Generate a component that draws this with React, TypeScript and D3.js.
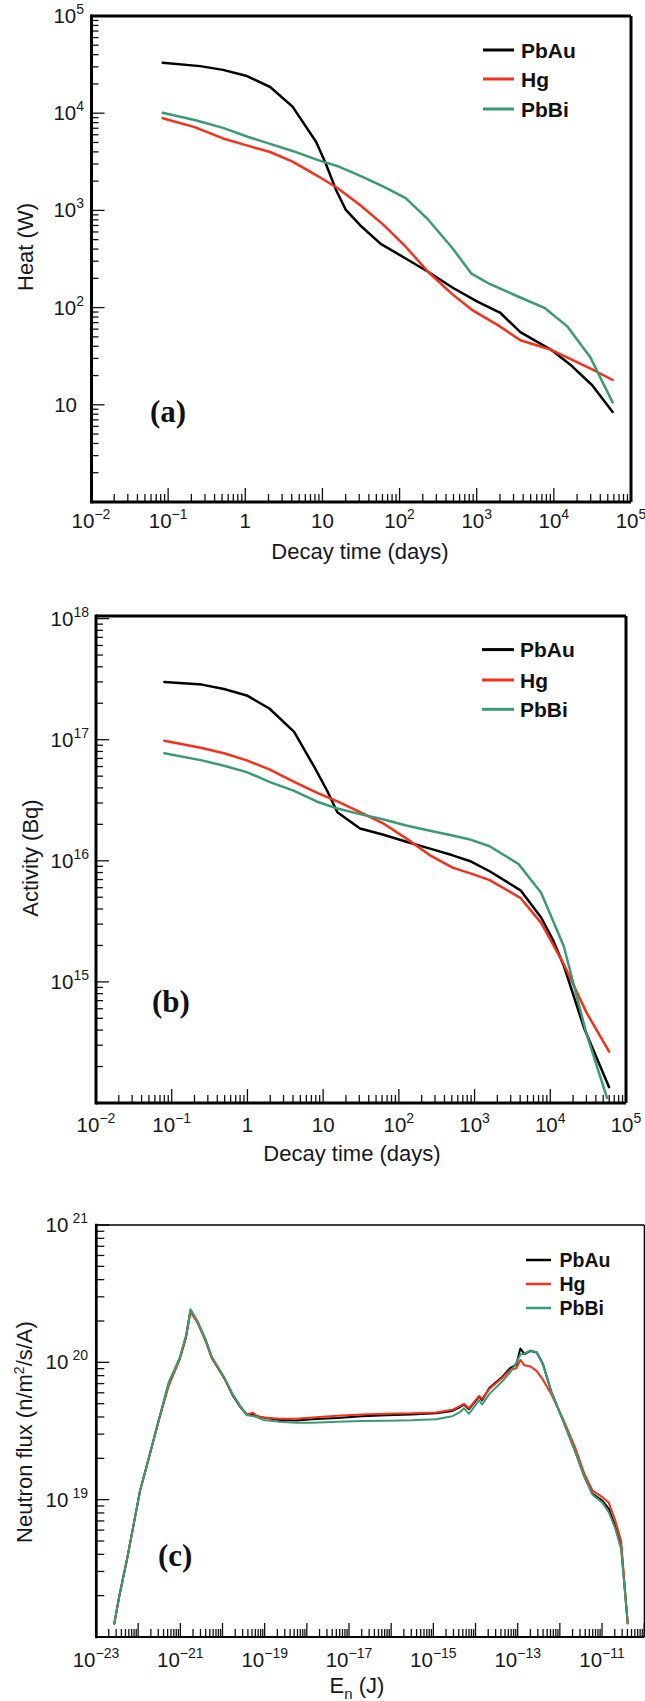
import React from 'react';
import * as d3 from 'd3';

const SANS = '"Liberation Sans", Arial, Helvetica, sans-serif';
const SERIF = '"Liberation Serif", "Times New Roman", serif';

const seriesNames = ['PbAu', 'Hg', 'PbBi'];
const seriesColors = ['#000000', '#f7301c', '#3a9b72'];

// ---------- Panel (a): decay heat ----------
const heatTimePbAu = [0.085, 0.26, 0.515, 1.02, 2.1, 4.1, 8.3, 11, 15, 20, 31, 57, 120, 234, 489, 1020, 2000, 3680, 9230, 17000, 31400, 57800];
const heatPbAu = [33000, 30500, 27900, 24300, 18600, 11700, 5050, 3050, 1620, 1020, 700, 452, 320, 234, 160, 115, 89, 56, 36.8, 25.2, 15.9, 8.45];
const heatTimeHg = [0.085, 0.22, 0.515, 1.07, 2.1, 4.1, 8.6, 15.8, 31, 61, 120, 234, 489, 900, 1880, 3680, 9230, 31400, 57800];
const heatHg = [8870, 7190, 5500, 4640, 3990, 3180, 2270, 1690, 1130, 718, 423, 234, 136, 93, 66, 46.2, 36.8, 23.2, 18];
const heatTimePbBi = [0.085, 0.22, 0.515, 1.07, 2.1, 4.1, 8.6, 15.8, 31, 61, 120, 234, 489, 847, 1470, 3680, 7670, 15070, 29500, 57800];
const heatPbBi = [10100, 8500, 7070, 5730, 4840, 4090, 3310, 2850, 2270, 1765, 1337, 807, 405, 225, 175, 127, 98.6, 63.7, 31.1, 10.6];

// ---------- Panel (b): activity ----------
const actTimePbAu = [0.08, 0.25, 0.49, 0.98, 1.95, 4.14, 7.7, 11.3, 15.4, 30.7, 61, 129, 258, 513, 901, 1580, 4050, 7570, 11000, 15080, 28200, 59800];
const actPbAu = [3.0e17, 2.85e17, 2.62e17, 2.32e17, 1.81e17, 1.16e17, 5.9e16, 3.79e16, 2.52e16, 1.85e16, 1.65e16, 1.43e16, 1.26e16, 1.11e16, 9.86e15, 8.2e15, 5.7e15, 3.4e15, 2.18e15, 1.36e15, 4.1e14, 1.35e14];
const actTimeHg = [0.08, 0.25, 0.49, 0.98, 1.95, 4.14, 8.2, 15.4, 30.7, 61, 129, 258, 513, 901, 1580, 4050, 7570, 15080, 30000, 59800];
const actHg = [9.8e16, 8.55e16, 7.72e16, 6.75e16, 5.69e16, 4.49e16, 3.66e16, 3.09e16, 2.52e16, 2.05e16, 1.51e16, 1.11e16, 8.79e15, 7.83e15, 6.93e15, 4.93e15, 3.07e15, 1.4e15, 5.6e14, 2.66e14];
const actTimePbBi = [0.08, 0.25, 0.49, 0.98, 1.95, 4.14, 8.2, 15.4, 30.7, 61, 129, 258, 513, 901, 1580, 3800, 7570, 15080, 30000, 56200];
const actPbBi = [7.72e16, 6.75e16, 6.1e16, 5.4e16, 4.49e16, 3.78e16, 3.09e16, 2.7e16, 2.43e16, 2.2e16, 1.95e16, 1.77e16, 1.62e16, 1.49e16, 1.32e16, 9.4e15, 5.45e15, 1.97e15, 3.74e14, 1.1e14];

// ---------- Panel (c): neutron flux spectrum ----------
const energyJ = [
  2.72e-23, 3.56e-23, 5.58e-23, 1.10e-22, 1.72e-22, 3.01e-22, 5.27e-22, 9.68e-22, 1.36e-21, 1.74e-21,
  2.55e-21, 3.99e-21, 5.58e-21, 1.10e-20, 1.72e-20, 2.69e-20, 3.77e-20, 5.28e-20, 6.61e-20, 9.25e-20,
  2.27e-19, 5.57e-19, 1.37e-18, 5.26e-18, 2.03e-17, 7.80e-17, 3.00e-16, 1.16e-15, 2.84e-15, 4.45e-15,
  5.32e-15, 6.97e-15, 1.22e-14, 1.43e-14, 2.14e-14, 4.21e-14, 6.59e-14, 9.23e-14, 1.16e-13, 1.45e-13,
  2.03e-13, 2.84e-13, 3.97e-13, 6.22e-13, 1.22e-12, 2.40e-12, 3.76e-12, 5.89e-12, 1.03e-11, 1.45e-11,
  2.03e-11, 2.84e-11, 4.06e-11,
];
const fluxPbAu = [
  1.25e18, 1.98e18, 3.82e18, 1.15e19, 1.92e19, 3.70e19, 6.92e19, 1.07e20, 1.53e20, 2.38e20,
  1.97e20, 1.45e20, 1.08e20, 7.67e19, 5.79e19, 4.70e19, 4.17e19, 4.22e19, 4.05e19, 3.97e19,
  3.81e19, 3.77e19, 3.85e19, 3.93e19, 4.05e19, 4.12e19, 4.17e19, 4.25e19, 4.43e19, 4.75e19,
  4.93e19, 4.56e19, 5.62e19, 5.30e19, 6.53e19, 7.80e19, 9.06e19, 9.62e19, 1.26e20, 1.15e20,
  1.21e20, 1.18e20, 9.73e19, 6.15e19, 3.70e19, 2.19e19, 1.49e19, 1.11e19, 9.82e18, 8.57e18,
  6.47e18, 4.57e18, 1.26e18,
];
const fluxHg = [
  1.25e18, 1.98e18, 3.82e18, 1.15e19, 1.92e19, 3.70e19, 6.71e19, 1.05e20, 1.51e20, 2.33e20,
  1.95e20, 1.42e20, 1.07e20, 7.67e19, 5.89e19, 4.75e19, 4.17e19, 4.30e19, 4.05e19, 3.97e19,
  3.88e19, 3.88e19, 3.97e19, 4.09e19, 4.17e19, 4.22e19, 4.25e19, 4.32e19, 4.51e19, 4.84e19,
  4.99e19, 4.64e19, 5.69e19, 5.42e19, 6.41e19, 7.67e19, 8.79e19, 9.06e19, 1.04e20, 9.51e19,
  9.33e19, 8.63e19, 7.48e19, 5.89e19, 3.81e19, 2.32e19, 1.56e19, 1.17e19, 1.04e19, 9.48e18,
  7.16e18, 5.0e18, 1.26e18,
];
const fluxPbBi = [
  1.25e18, 1.98e18, 3.82e18, 1.15e19, 1.92e19, 3.70e19, 7.13e19, 1.08e20, 1.57e20, 2.44e20,
  2.0e20, 1.46e20, 1.10e20, 7.80e19, 5.89e19, 4.75e19, 4.12e19, 4.07e19, 3.98e19, 3.81e19,
  3.70e19, 3.63e19, 3.63e19, 3.70e19, 3.74e19, 3.76e19, 3.78e19, 3.85e19, 4.05e19, 4.37e19,
  4.64e19, 4.22e19, 5.30e19, 4.93e19, 5.89e19, 7.22e19, 8.43e19, 9.91e19, 1.14e20, 1.16e20,
  1.22e20, 1.18e20, 9.62e19, 6.15e19, 3.70e19, 2.16e19, 1.47e19, 1.09e19, 9.48e18, 8.07e18,
  6.24e18, 4.36e18, 1.26e18,
];

// tick labels: [value, base, exponent]
const timeTickLabels: [number, string, string][] = [
  [1e-2, '10', '\u22122'], [1e-1, '10', '\u22121'], [1, '1', ''], [10, '10', ''],
  [1e2, '10', '2'], [1e3, '10', '3'], [1e4, '10', '4'], [1e5, '10', '5'],
];
const heatTickLabels: [number, string, string][] = [
  [1e5, '10', '5'], [1e4, '10', '4'], [1e3, '10', '3'], [1e2, '10', '2'], [10, '10', ''],
];
const actTickLabels: [number, string, string][] = [
  [1e18, '10', '18'], [1e17, '10', '17'], [1e16, '10', '16'], [1e15, '10', '15'],
];
const energyTickLabels: [number, string, string][] = [
  [1e-23, '10', '\u221223'], [1e-21, '10', '\u221221'], [1e-19, '10', '\u221219'], [1e-17, '10', '\u221217'],
  [1e-15, '10', '\u221215'], [1e-13, '10', '\u221213'], [1e-11, '10', '\u221211'],
];
const fluxTickLabels: [number, string, string][] = [
  [1e21, '10', '21'], [1e20, '10', '20'], [1e19, '10', '19'],
];

type Series = { name: string; color: string; x: number[]; y: number[] };

type PanelCfg = {
  frame: { l: number; r: number; t: number; b: number; w: number; topW?: number; rightW?: number; bottomW?: number };
  xDomain: [number, number]; xRange: [number, number];
  yDomain: [number, number]; yRange: [number, number];
  xLabels: [number, string, string][]; yLabels: [number, string, string][];
  xLabelBaseline: number; yLabelRight: number; ySupGap: number;
  xTitle: React.ReactNode; xTitleX: number; xTitleY: number;
  yTitle: React.ReactNode; yTitleX: number; yTitleY: number;
  legend: { x1: number; x2: number; tx: number; ys: number[]; fs: number; lw: number };
  letter: { text: string; x: number; y: number };
  series: Series[]; lineWidth: number;
  xTickMajor: number; xTickMinor: number; yTickMajor: number; yTickMinor: number;
};

function logTicks(domain: [number, number]) {
  const lo = Math.min(domain[0], domain[1]);
  const hi = Math.max(domain[0], domain[1]);
  const out: { v: number; major: boolean }[] = [];
  for (let d = Math.floor(Math.log10(lo)) - 1; d <= Math.ceil(Math.log10(hi)); d++) {
    for (let k = 1; k <= 9; k++) {
      const v = k * Math.pow(10, d);
      if (v >= lo * 0.999 && v <= hi * 1.001) out.push({ v, major: k === 1 });
    }
  }
  return out;
}

function Panel({ cfg }: { cfg: PanelCfg }) {
  const x = d3.scaleLog().domain(cfg.xDomain).range(cfg.xRange);
  const y = d3.scaleLog().domain(cfg.yDomain).range(cfg.yRange);
  const f = cfg.frame;
  const line = d3.line<[number, number]>().x((d) => x(d[0])).y((d) => y(d[1]));
  const xt = logTicks(cfg.xDomain);
  const yt = logTicks(cfg.yDomain);
  return (
    <g>
      {cfg.series.map((s) => (
        <path key={s.name} d={line(s.x.map((v, i) => [v, s.y[i]] as [number, number])) || ''}
          fill="none" stroke={s.color} strokeWidth={cfg.lineWidth} strokeLinejoin="round" strokeLinecap="round" />
      ))}
      {xt.map((t, i) => (
        <line key={'xt' + i} x1={x(t.v)} x2={x(t.v)} y1={f.b} y2={f.b - (t.major ? cfg.xTickMajor : cfg.xTickMinor)}
          stroke="#111" strokeWidth={1.3} />
      ))}
      {yt.map((t, i) => (
        <line key={'yt' + i} x1={f.l} x2={f.l + (t.major ? cfg.yTickMajor : cfg.yTickMinor)} y1={y(t.v)} y2={y(t.v)}
          stroke="#111" strokeWidth={1.3} />
      ))}
      <line x1={f.l} x2={f.r} y1={f.t} y2={f.t} stroke="#000" strokeWidth={f.topW ?? f.w} />
      <line x1={f.r} x2={f.r} y1={f.t} y2={f.b} stroke="#000" strokeWidth={f.rightW ?? f.w} />
      <line x1={f.l} x2={f.r} y1={f.b} y2={f.b} stroke="#000" strokeWidth={f.bottomW ?? f.w} />
      <line x1={f.l} x2={f.l} y1={f.t - f.w / 2} y2={f.b + f.w / 2} stroke="#000" strokeWidth={f.w} />
      {cfg.xLabels.map(([v, base, exp], i) => (
        <text key={'xl' + i} x={x(v)} y={cfg.xLabelBaseline} textAnchor="middle" fontFamily={SANS} fontSize={20.5} fill="#161820">
          <tspan>{base}</tspan>
          {exp && <tspan dy={-9} fontSize={14}>{exp}</tspan>}
        </text>
      ))}
      {cfg.yLabels.map(([v, base, exp], i) => (
        <text key={'yl' + i} x={cfg.yLabelRight - (exp ? 0 : 7)} y={y(v) + 7} textAnchor="end" fontFamily={SANS} fontSize={20.5} fill="#161820">
          <tspan>{base}</tspan>
          {exp && <tspan dx={cfg.ySupGap} dy={-9} fontSize={14}>{exp}</tspan>}
        </text>
      ))}
      <text x={cfg.xTitleX} y={cfg.xTitleY} textAnchor="middle" fontFamily={SANS} fontSize={22} fill="#161820">{cfg.xTitle}</text>
      <text transform={`translate(${cfg.yTitleX},${cfg.yTitleY}) rotate(-90)`} textAnchor="middle" fontFamily={SANS} fontSize={22} fill="#161820">{cfg.yTitle}</text>
      {cfg.series.map((s, i) => (
        <g key={'lg' + i}>
          <line x1={cfg.legend.x1} x2={cfg.legend.x2} y1={cfg.legend.ys[i]} y2={cfg.legend.ys[i]} stroke={s.color} strokeWidth={cfg.legend.lw} />
          <text x={cfg.legend.tx} y={cfg.legend.ys[i] + cfg.legend.fs * 0.36} fontFamily={SANS} fontWeight="bold" fontSize={cfg.legend.fs} fill="#111">{s.name}</text>
        </g>
      ))}
      <text x={cfg.letter.x} y={cfg.letter.y} fontFamily={SERIF} fontWeight="bold" fontSize={31} fill="#111">{cfg.letter.text}</text>
    </g>
  );
}

const mk = (xs: number[][], ys: number[][]): Series[] =>
  seriesNames.map((n, i) => ({ name: n, color: seriesColors[i], x: xs[i], y: ys[i] }));

const panelA: PanelCfg = {
  frame: { l: 91.5, r: 631, t: 16, b: 502, w: 3 },
  xDomain: [1e-2, 1e5], xRange: [91, 631],
  yDomain: [1, 1e5], yRange: [502, 16],
  xLabels: timeTickLabels, yLabels: heatTickLabels,
  xLabelBaseline: 528, yLabelRight: 84, ySupGap: 0,
  xTitle: 'Decay time (days)', xTitleX: 360, xTitleY: 559,
  yTitle: 'Heat (W)', yTitleX: 33, yTitleY: 247,
  legend: { x1: 483, x2: 514, tx: 521, ys: [50, 79, 109], fs: 21, lw: 3 },
  letter: { text: '(a)', x: 150, y: 422 },
  series: mk([heatTimePbAu, heatTimeHg, heatTimePbBi], [heatPbAu, heatHg, heatPbBi]),
  lineWidth: 2.5,
  xTickMajor: 14, xTickMinor: 8, yTickMajor: 13, yTickMinor: 7,
};

const panelB: PanelCfg = {
  frame: { l: 96, r: 626, t: 616, b: 1103, w: 3 },
  xDomain: [1e-2, 1e5], xRange: [96, 626],
  yDomain: [1e14, 1e18], yRange: [1103, 618.6],
  xLabels: timeTickLabels, yLabels: actTickLabels,
  xLabelBaseline: 1132, yLabelRight: 89, ySupGap: 0,
  xTitle: 'Decay time (days)', xTitleX: 352, xTitleY: 1161,
  yTitle: 'Activity (Bq)', yTitleX: 38, yTitleY: 858,
  legend: { x1: 482, x2: 514, tx: 520, ys: [649.6, 680, 709.3], fs: 21, lw: 3 },
  letter: { text: '(b)', x: 152, y: 1012 },
  series: mk([actTimePbAu, actTimeHg, actTimePbBi], [actPbAu, actHg, actPbBi]),
  lineWidth: 2.5,
  xTickMajor: 14, xTickMinor: 8, yTickMajor: 13, yTickMinor: 7,
};

const panelC: PanelCfg = {
  frame: { l: 96.3, r: 644.5, t: 1225, b: 1637, w: 2.7, topW: 1.6, rightW: 1.6, bottomW: 2 },
  xDomain: [1e-23, 1e-10], xRange: [96, 644.2],
  yDomain: [1e18, 1e21], yRange: [1637, 1225],
  xLabels: energyTickLabels, yLabels: fluxTickLabels,
  xLabelBaseline: 1667, yLabelRight: 88, ySupGap: 4,
  xTitle: (<>E<tspan dy={6} fontSize={15}>n</tspan><tspan dy={-6}> (J)</tspan></>), xTitleX: 357, xTitleY: 1693,
  yTitle: (<>Neutron flux (n/m<tspan dy={-8} fontSize={14}>2</tspan><tspan dy={8}>/s/A)</tspan></>), yTitleX: 32, yTitleY: 1432,
  legend: { x1: 526, x2: 551, tx: 559.5, ys: [1260, 1284, 1308], fs: 19.5, lw: 2.5 },
  letter: { text: '(c)', x: 158, y: 1566 },
  series: mk([energyJ, energyJ, energyJ], [fluxPbAu, fluxHg, fluxPbBi]),
  lineWidth: 2,
  xTickMajor: 14, xTickMinor: 8, yTickMajor: 13, yTickMinor: 8,
};

export default function App() {
  return (
    <svg width={645} height={1701} viewBox="0 0 645 1701"
      style={{ position: 'absolute', left: 0, top: 0, display: 'block', background: '#fff' }}>
      <rect x={0} y={0} width={645} height={1701} fill="#fff" />
      <Panel cfg={panelA} />
      <Panel cfg={panelB} />
      <Panel cfg={panelC} />
    </svg>
  );
}
